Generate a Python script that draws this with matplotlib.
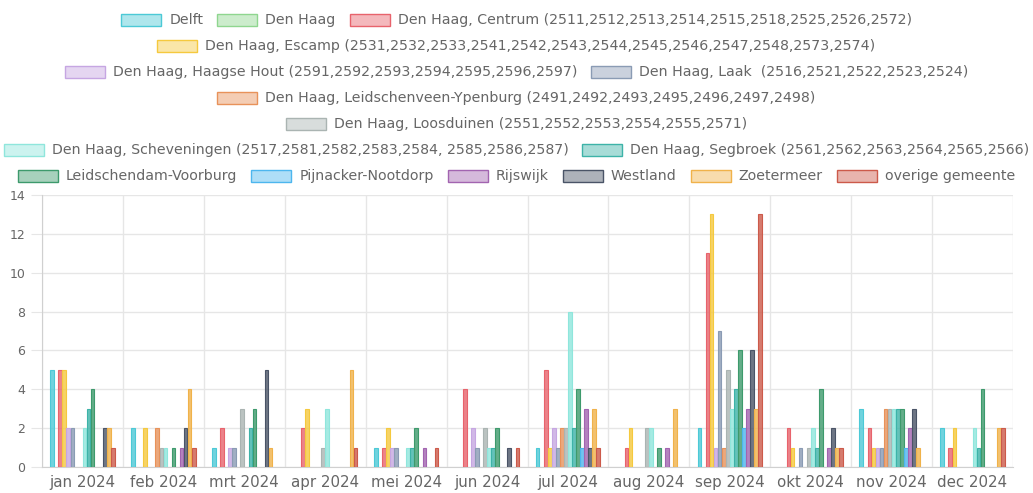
import matplotlib
matplotlib.use("Agg")
import matplotlib.pyplot as plt
from matplotlib.patches import Rectangle
from matplotlib.colors import to_rgba
import numpy as np

W, H = 1033, 493

months = ["jan 2024", "feb 2024", "mrt 2024", "apr 2024", "mei 2024", "jun 2024",
          "jul 2024", "aug 2024", "sep 2024", "okt 2024", "nov 2024", "dec 2024"]

series_names = [
    "Delft",
    "Den Haag",
    "Den Haag, Centrum (2511,2512,2513,2514,2515,2518,2525,2526,2572)",
    "Den Haag, Escamp (2531,2532,2533,2541,2542,2543,2544,2545,2546,2547,2548,2573,2574)",
    "Den Haag, Haagse Hout (2591,2592,2593,2594,2595,2596,2597)",
    "Den Haag, Laak  (2516,2521,2522,2523,2524)",
    "Den Haag, Leidschenveen-Ypenburg (2491,2492,2493,2495,2496,2497,2498)",
    "Den Haag, Loosduinen (2551,2552,2553,2554,2555,2571)",
    "Den Haag, Scheveningen (2517,2581,2582,2583,2584, 2585,2586,2587)",
    "Den Haag, Segbroek (2561,2562,2563,2564,2565,2566)",
    "Leidschendam-Voorburg",
    "Pijnacker-Nootdorp",
    "Rijswijk",
    "Westland",
    "Zoetermeer",
    "overige gemeente",
]

colors = ["#4cc9d6", "#8fd68f", "#e8636c", "#f5c93e", "#c6a6e2", "#8a9bb4",
          "#e8925a", "#aab4b2", "#8fe6dc", "#3db3a8", "#3d9a6c", "#4db6ee",
          "#a264b0", "#4a5467", "#f0b24a", "#cc5a4a"]

# counts per month, jan..dec
delft        = [5, 2, 1, 0, 1, 0, 1, 0, 2, 0, 3, 2]
den_haag     = [0, 0, 0, 0, 0, 0, 0, 0, 0, 0, 0, 0]
centrum      = [5, 0, 2, 2, 1, 4, 5, 1, 11, 2, 2, 1]
escamp       = [5, 2, 0, 3, 2, 0, 1, 2, 13, 1, 1, 2]
haagse_hout  = [2, 0, 1, 0, 1, 2, 2, 0, 1, 0, 1, 0]
laak         = [2, 0, 1, 0, 1, 1, 1, 0, 7, 1, 1, 0]
ypenburg     = [0, 2, 0, 0, 0, 0, 2, 0, 1, 0, 3, 0]
loosduinen   = [0, 1, 3, 1, 0, 2, 2, 2, 5, 1, 3, 0]
scheveningen = [2, 1, 0, 3, 1, 1, 8, 2, 3, 2, 3, 2]
segbroek     = [3, 0, 2, 0, 1, 1, 2, 0, 4, 1, 3, 1]
voorburg     = [4, 1, 3, 0, 2, 2, 4, 1, 6, 4, 3, 4]
pijnacker    = [0, 0, 0, 0, 0, 0, 1, 0, 2, 0, 1, 0]
rijswijk     = [0, 1, 0, 0, 1, 0, 3, 1, 3, 1, 2, 0]
westland     = [2, 2, 5, 0, 0, 1, 1, 0, 6, 2, 3, 0]
zoetermeer   = [2, 4, 1, 5, 0, 0, 3, 3, 3, 1, 1, 2]
overige      = [1, 1, 0, 1, 1, 1, 1, 0, 13, 1, 0, 2]

values = [delft, den_haag, centrum, escamp, haagse_hout, laak, ypenburg, loosduinen,
          scheveningen, segbroek, voorburg, pijnacker, rijswijk, westland, zoetermeer, overige]

legend_rows = [[0, 1, 2], [3], [4, 5], [6], [7], [8, 9], [10, 11, 12, 13, 14, 15]]

TXT = "#666666"
GRID = "#e6e6e6"
plt.rcParams["font.family"] = ["DejaVu Sans"]

fig = plt.figure(figsize=(W / 100, H / 100), dpi=100)
ax = fig.add_axes([42 / W, 1 - 467 / H, (1013 - 42) / W, (467 - 195) / H])

n = len(values)
slot = 0.8 / n
x = np.arange(len(months))
for k, (vals, c) in enumerate(zip(values, colors)):
    v = np.array(vals, float)
    pos = x - 0.4 + slot * (k + 0.5)
    m = v > 0
    ax.bar(pos[m], v[m], width=slot * 0.9, color=to_rgba(c, 0.8),
           edgecolor=c, linewidth=0.8, zorder=3)

ax.set_xlim(-0.5, len(months) - 0.5)
ax.set_ylim(0, 14)
ax.set_yticks(range(0, 15, 2))
ax.set_xticks(x)
ax.set_xticklabels(months)
ax.set_xticks(np.arange(-0.5, len(months)), minor=True)
ax.grid(True, which="minor", axis="x", color=GRID, lw=1, zorder=0)
ax.grid(True, which="major", axis="y", color=GRID, lw=1, zorder=0)
ax.tick_params(axis="x", which="major", length=0, labelsize=10.8, colors=TXT, pad=6)
ax.tick_params(axis="x", which="minor", length=0)
ax.tick_params(axis="y", length=8, color=GRID, labelsize=9, labelcolor=TXT, pad=4)
for s in ("top", "right"):
    ax.spines[s].set_visible(False)
for s in ("left", "bottom"):
    ax.spines[s].set_color("#d0d0d0")

# chart.js style legend, centred rows
FS = 10.2
BOX_W, BOX_H, GAP, PAD = 40, 12, 8, 14
fig.canvas.draw()
r = fig.canvas.get_renderer()


def text_w(s):
    t = fig.text(0, 0, s, fontsize=FS)
    w = t.get_window_extent(r).width
    t.remove()
    return w


row_y = [20, 46, 72, 98, 124, 150, 176]
for row, yc in zip(legend_rows, row_y):
    ws = [text_w(series_names[i]) for i in row]
    total = sum(BOX_W + GAP + w for w in ws) + PAD * (len(row) - 1)
    xp = (W - total) / 2
    for i, w in zip(row, ws):
        c = colors[i]
        fig.patches.append(Rectangle((xp / W, 1 - (yc + BOX_H / 2) / H), BOX_W / W, BOX_H / H,
                                     transform=fig.transFigure, facecolor=to_rgba(c, 0.45),
                                     edgecolor=c, linewidth=1))
        fig.text((xp + BOX_W + GAP) / W, 1 - yc / H, series_names[i], fontsize=FS,
                 color=TXT, va="center", ha="left")
        xp += BOX_W + GAP + w + PAD

fig.savefig("out.png", dpi=100)
